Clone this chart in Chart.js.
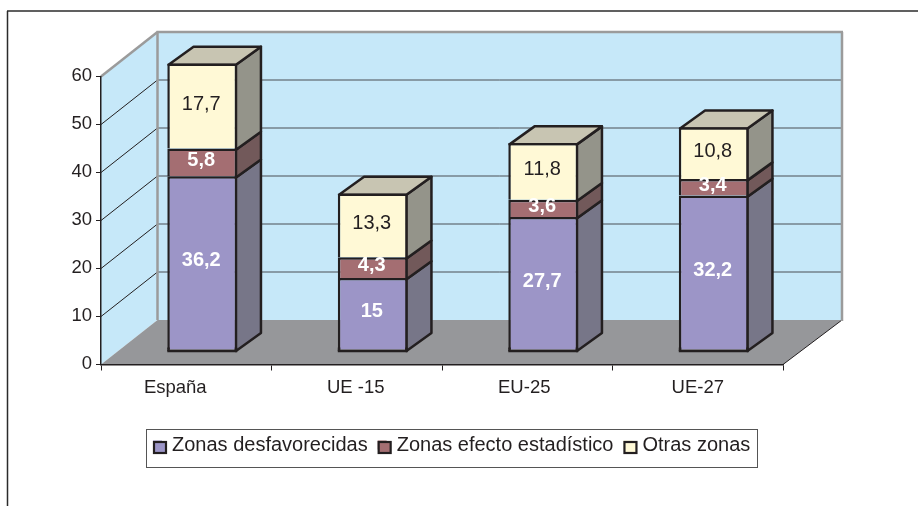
<!DOCTYPE html>
<html><head><meta charset="utf-8">
<style>html,body{margin:0;padding:0;background:#fff}canvas{display:block}</style>
<script src="https://cdn.jsdelivr.net/npm/chart.js@4"></script>
</head><body><canvas id="c" width="918" height="506"></canvas>
<script>
const categories = ['España', 'UE -15', 'EU-25', 'UE-27'];
const zonasDesfavorecidas = [36.2, 15, 27.7, 32.2];
const zonasEfecto = [5.8, 4.3, 3.6, 3.4];
const otrasZonas = [17.7, 13.3, 11.8, 10.8];
const seriesNames = ['Zonas desfavorecidas', 'Zonas efecto estadístico', 'Otras zonas'];

const FONT = '"Liberation Sans", Arial, sans-serif';
const INK = '#231f20';
const FRONT = ['#9c95c7', '#a46e72', '#fff9d6'];
const SIDE = ['#777688', '#72595a', '#94948a'];
const TOP = '#c8c5b2';
const LABEL = ['#ffffff', '#ffffff', INK];
const WALL = '#c6e8f9', FLOOR = '#96979a', EDGE = '#9b9b9b', GRID = '#4a4f55';
const WALL_DX = 56.5, WALL_DY = 44.5;   // depth of the chart box
const BAR_DX = 16, BAR_DY = 14.5;       // bar offset inside the box
const DEPTH_DX = 25, DEPTH_DY = 18;     // depth of every bar
const BASE_DROP = 1.5;                  // bar foot line below the value position
const SW = 2.5;
const X_LABEL_NUDGE = [-11, -1, -3, 0];

function poly(ctx, pts, fill, stroke, lw) {
  ctx.beginPath();
  pts.forEach((p, i) => i ? ctx.lineTo(p[0], p[1]) : ctx.moveTo(p[0], p[1]));
  ctx.closePath();
  if (fill) { ctx.fillStyle = fill; ctx.fill(); }
  if (stroke) { ctx.strokeStyle = stroke; ctx.lineWidth = lw; ctx.lineJoin = 'round'; ctx.stroke(); }
}
function line(ctx, x1, y1, x2, y2, color, lw) {
  ctx.beginPath(); ctx.moveTo(x1, y1); ctx.lineTo(x2, y2);
  ctx.strokeStyle = color; ctx.lineWidth = lw; ctx.stroke();
}

const box3d = {
  id: 'box3d',
  afterLayout(chart) {
    const lg = chart.legend;
    lg.left = 143; lg.right = 800; lg.top = 425; lg.bottom = 468;
  },
  beforeDraw(chart) {
    const { ctx, chartArea: a, scales: { y, x } } = chart;
    const items = x.getLabelItems();
    if (!items._nudged) {
      items.forEach((it, i) => { it.options.translation[0] += X_LABEL_NUDGE[i]; });
      items._nudged = true;
    }
    ctx.save();
    // outer frame
    line(ctx, 7.5, 506, 7.5, 11, '#2b2b2b', 1.5);
    line(ctx, 7, 11, 918, 11, '#2b2b2b', 1.5);
    const L = a.left, R = a.right, T = a.top, B = a.bottom;
    const bl = L + WALL_DX, br = R + 59, bt = T - WALL_DY, bb = B - WALL_DY;
    poly(ctx, [[bl, bt], [br, bt], [br, bb], [bl, bb]], WALL);
    poly(ctx, [[L, T], [bl, bt], [bl, bb], [L, B]], WALL);
    poly(ctx, [[L, B], [R, B], [br, bb], [bl, bb]], FLOOR);
    // gridlines on both walls
    y.ticks.forEach(t => {
      const py = y.getPixelForValue(t.value);
      if (t.value > y.min && t.value < y.max) {
        line(ctx, L, py, bl, py - WALL_DY, INK, 1);
        line(ctx, bl, py - WALL_DY, br, py - WALL_DY, GRID, 1);
      }
    });
    line(ctx, R, B, br, bb, INK, 1);
    // wall edges
    line(ctx, L, T, bl, bt, EDGE, 2.5);
    line(ctx, bl - 1, bt, br + 1, bt, EDGE, 2.5);
    line(ctx, bl, bt, bl, bb, EDGE, 2.5);
    line(ctx, br, bt, br, bb + 1, EDGE, 2.5);
    ctx.restore();
  },
  beforeDatasetsDraw(chart) {
    const ctx = chart.ctx;
    ctx.save();
    ctx.translate(BAR_DX, -BAR_DY);
    chart.data.datasets.forEach((ds, d) => {
      chart.getDatasetMeta(d).data.forEach(el => {
        const r = el.x + el.width / 2 - SW / 2, t = el.y + SW / 2;
        const b = d === 0 ? el.base + BASE_DROP : el.base + SW / 2;
        poly(ctx, [[r, t], [r + DEPTH_DX, t - DEPTH_DY], [r + DEPTH_DX, b - DEPTH_DY], [r, b]], SIDE[d], INK, SW);
        if (d === chart.data.datasets.length - 1) {
          const l = el.x - el.width / 2 + SW / 2;
          poly(ctx, [[l, t], [l + DEPTH_DX, t - DEPTH_DY], [r + DEPTH_DX, t - DEPTH_DY], [r, t]], TOP, INK, SW);
        }
      });
    });
    // bars themselves are drawn by the library inside this same offset
  },
  afterDatasetsDraw(chart) {
    const ctx = chart.ctx;
    ctx.restore();
    ctx.save();
    ctx.translate(BAR_DX, -BAR_DY);
    // foot line of every bar
    chart.getDatasetMeta(0).data.forEach(el => {
      const l = el.x - el.width / 2, r = el.x + el.width / 2;
      ctx.fillStyle = INK;
      ctx.fillRect(l, el.base + 0.25, el.width, SW);
      ctx.fillRect(l, el.base - 2, SW, BASE_DROP + 2);
      ctx.fillRect(r - SW, el.base - 2, SW, BASE_DROP + 2);
    });
    ctx.textAlign = 'center';
    ctx.textBaseline = 'middle';
    chart.data.datasets.forEach((ds, d) => {
      chart.getDatasetMeta(d).data.forEach((el, i) => {
        ctx.font = (d < 2 ? 'bold ' : '') + '20px ' + FONT;
        ctx.fillStyle = LABEL[d];
        ctx.fillText(String(ds.data[i]).replace('.', ','), el.x - 1, (el.y + el.base) / 2 + (d < 2 ? -2 : -1.5));
      });
    });
    ctx.restore();
  },
  afterDraw(chart) {
    const ctx = chart.ctx, lg = chart.legend;
    ctx.save();
    ctx.strokeStyle = '#555'; ctx.lineWidth = 1;
    ctx.strokeRect(146.5, 429.5, 611, 38);
    let x = lg.left + lg.options.labels.padding;
    lg.legendHitBoxes.forEach((h, i) => {
      ctx.fillStyle = FRONT[i];
      ctx.strokeStyle = INK; ctx.lineWidth = 2.2;
      ctx.fillRect(x + 1, 442, 12, 11);
      ctx.strokeRect(x + 1, 442, 12, 11);
      x += h.width + lg.options.labels.padding;
    });
    ctx.restore();
  }
};

function dataset(name, values, i) {
  return {
    label: name, data: values, backgroundColor: FRONT[i], borderColor: INK,
    borderWidth: { top: SW, left: SW, right: SW, bottom: 0 },
    borderSkipped: false, clip: false,
    categoryPercentage: 1, barPercentage: 0.41
  };
}

new Chart(document.getElementById('c'), {
  type: 'bar',
  data: {
    labels: categories,
    datasets: [
      dataset(seriesNames[0], zonasDesfavorecidas, 0),
      dataset(seriesNames[1], zonasEfecto, 1),
      dataset(seriesNames[2], otrasZonas, 2)
    ]
  },
  plugins: [box3d],
  options: {
    responsive: false, animation: false,
    layout: { padding: { left: 60, right: 135, top: 76.5, bottom: 61.5 } },
    plugins: {
      tooltip: { enabled: false },
      legend: {
        position: 'bottom', align: 'start',
        labels: {
          boxWidth: 9, boxHeight: 9, padding: 10, color: INK,
          font: { family: FONT, size: 20 },
          generateLabels: chart => Chart.defaults.plugins.legend.labels.generateLabels(chart)
            .map(item => Object.assign(item, { lineWidth: 0 }))
        }
      }
    },
    scales: {
      x: {
        stacked: true,
        afterFit: s => { s.height = 40; },
        grid: { drawOnChartArea: false, color: INK, tickLength: 6, offset: true },
        border: { display: true, color: INK, width: 1.5 },
        ticks: { color: INK, font: { family: FONT, size: 18.5 }, padding: 6, maxRotation: 0 }
      },
      y: {
        stacked: true, min: 0, max: 60,
        afterFit: s => { s.width = 41; },
        grid: { drawOnChartArea: false, color: INK, tickLength: 5 },
        border: { display: true, color: INK, width: 1.5 },
        ticks: { stepSize: 10, color: INK, font: { family: FONT, size: 18.5 }, padding: 4, labelOffset: -1 }
      }
    }
  }
});
</script></body></html>
